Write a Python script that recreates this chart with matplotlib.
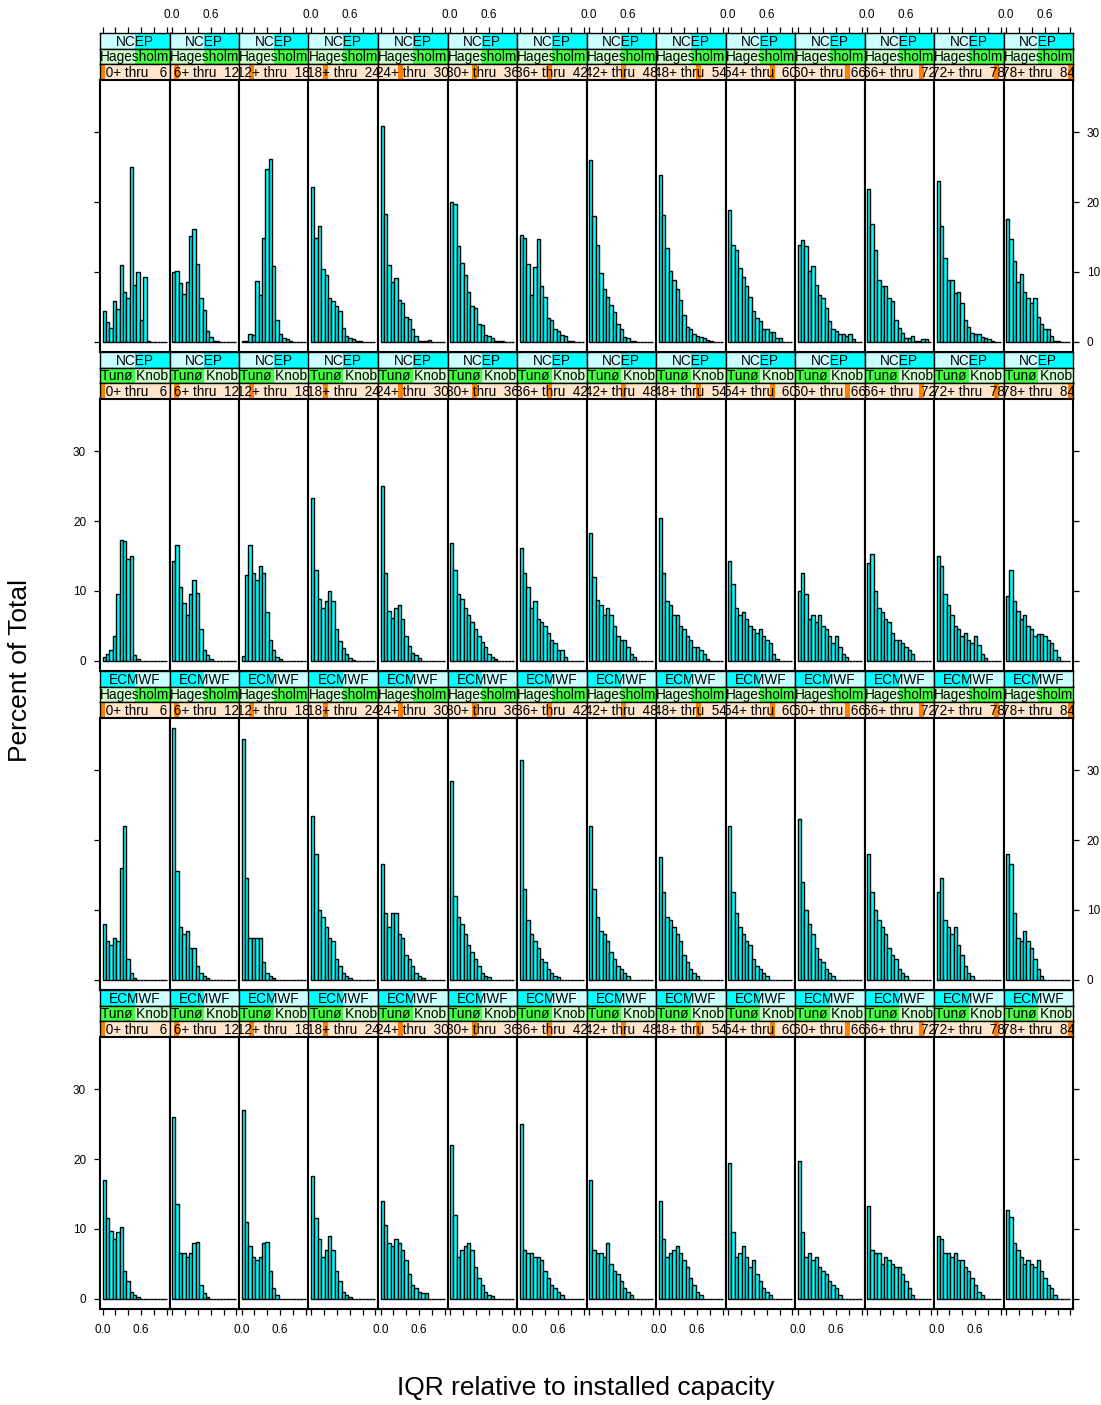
import numpy as np
import matplotlib
matplotlib.use("Agg")
import matplotlib.pyplot as plt
from matplotlib.patches import Rectangle

plt.rcParams['font.family'] = ['Liberation Sans', 'DejaVu Sans']

# percent of total per IQR bin (19 bins over 0..1), one list per lead-time shingle
ncep_hagesholm = [
    [4.4, 2.9, 2.0, 5.9, 4.7, 11.0, 7.1, 6.3, 25.0, 8.2, 10.0, 3.2, 9.3, 0.2],
    [10.0, 10.2, 8.4, 6.8, 8.6, 15.1, 16.1, 11.2, 6.3, 4.5, 1.5, 0.7, 0.2, 0.1],
    [0.1, 0.2, 1.1, 1.0, 8.7, 6.7, 14.9, 24.7, 26.1, 10.9, 3.2, 1.2, 0.5, 0.4, 0.1],
    [22.1, 14.8, 16.6, 10.4, 9.6, 6.3, 5.8, 5.2, 4.4, 2.0, 0.9, 0.6, 0.4, 0.1, 0.2],
    [30.8, 18.3, 11.0, 8.6, 9.1, 6.0, 5.6, 3.5, 3.3, 1.9, 0.9, 0.2, 0.2, 0.1, 0.3],
    [20.0, 19.7, 13.7, 11.3, 9.6, 7.2, 5.2, 4.8, 2.6, 2.4, 1.0, 0.8, 0.5, 0.2, 0.2, 0.1],
    [15.3, 14.8, 11.2, 6.7, 10.7, 14.7, 8.0, 6.4, 3.4, 3.2, 1.8, 1.5, 1.0, 0.8, 0.2, 0.2],
    [26.0, 18.0, 13.8, 9.9, 7.6, 6.4, 5.3, 4.3, 2.5, 1.9, 0.7, 0.5, 0.2, 0.2],
    [23.8, 18.1, 13.4, 10.2, 8.8, 7.6, 6.0, 3.8, 2.1, 1.8, 1.1, 0.8, 0.7, 0.5, 0.3, 0.2],
    [18.9, 13.8, 13.2, 10.6, 9.3, 8.0, 6.4, 4.4, 3.4, 3.0, 1.9, 1.8, 1.4, 1.4, 0.5, 0.5],
    [13.9, 14.6, 13.7, 10.2, 10.8, 8.1, 6.7, 6.3, 4.8, 3.0, 1.8, 1.5, 1.2, 1.1, 0.8, 1.1, 0.4],
    [21.8, 16.8, 13.1, 8.8, 8.0, 8.0, 6.3, 5.8, 3.2, 2.0, 1.3, 0.6, 0.5, 0.8, 0.2, 0.2, 0.4, 0.4],
    [23.0, 16.5, 12.0, 8.8, 8.8, 7.0, 7.1, 5.6, 3.1, 2.1, 1.3, 1.2, 1.1, 0.7, 0.5, 0.4, 0.2],
    [17.5, 14.7, 11.6, 8.5, 9.7, 7.1, 6.3, 5.6, 6.3, 3.5, 2.6, 1.8, 1.8, 0.8, 0.2, 0.1],
]
ncep_tuno = [
    [0.5, 1.0, 1.5, 3.5, 9.5, 17.3, 17.1, 14.5, 15.0, 0.8, 0.3],
    [14.3, 16.6, 10.5, 8.3, 6.6, 9.5, 11.5, 9.7, 4.5, 1.5, 0.8, 0.3],
    [0.7, 12.3, 16.5, 12.5, 11.5, 13.5, 12.5, 7.0, 3.0, 1.5, 0.6, 0.3],
    [23.3, 13.0, 8.8, 7.5, 8.5, 10.0, 8.5, 4.5, 2.8, 1.8, 1.0, 0.4, 0.2],
    [25.0, 12.5, 7.2, 6.2, 7.5, 8.0, 6.0, 3.5, 2.2, 1.1, 0.9, 0.4],
    [16.8, 13.0, 9.5, 8.8, 7.5, 6.5, 5.5, 4.5, 3.5, 2.7, 2.0, 1.0, 0.5, 0.3],
    [16.2, 12.5, 10.5, 7.5, 8.5, 6.0, 5.5, 5.0, 4.0, 3.0, 2.5, 1.5, 1.5, 0.5],
    [18.3, 12.0, 8.7, 8.0, 6.5, 7.5, 6.5, 5.0, 3.5, 3.0, 3.0, 2.0, 1.0, 0.5],
    [20.5, 12.5, 8.5, 8.0, 6.5, 6.5, 5.0, 4.5, 3.5, 3.0, 2.0, 2.0, 1.5, 1.0, 0.3],
    [14.3, 11.0, 7.5, 6.5, 7.0, 6.0, 5.0, 4.5, 4.0, 4.5, 3.5, 3.0, 2.5, 1.0, 0.3],
    [10.0, 12.5, 9.5, 6.0, 6.5, 5.5, 6.5, 5.0, 4.5, 3.5, 2.5, 3.5, 2.0, 1.0, 0.5],
    [14.0, 15.3, 10.0, 7.5, 7.0, 6.0, 5.5, 4.0, 3.0, 3.0, 2.5, 2.0, 1.5, 1.0],
    [15.0, 13.5, 9.5, 8.0, 6.5, 5.0, 4.5, 3.5, 4.0, 3.0, 2.5, 3.5, 2.3, 1.0, 0.4],
    [9.3, 13.0, 8.5, 7.2, 6.0, 6.5, 5.0, 4.5, 3.5, 3.8, 3.8, 3.5, 3.0, 2.5, 1.5, 0.5],
]
ecmwf_hagesholm = [
    [8.0, 5.5, 5.0, 6.0, 5.5, 16.0, 22.0, 3.0, 1.0, 0.3],
    [36.0, 15.5, 7.5, 6.5, 7.0, 4.5, 4.5, 2.0, 1.0, 0.5, 0.3],
    [34.5, 14.5, 6.0, 6.0, 6.0, 6.0, 2.5, 1.0, 0.5, 0.3],
    [23.5, 18.0, 10.0, 9.0, 7.5, 6.0, 5.5, 3.0, 2.0, 1.0, 0.5, 0.3],
    [16.5, 9.5, 7.5, 9.5, 9.5, 6.5, 6.0, 3.5, 3.0, 2.0, 1.0, 0.5, 0.3],
    [28.5, 12.0, 9.0, 8.0, 6.5, 5.0, 4.0, 3.0, 2.0, 1.0, 0.5, 0.4],
    [31.5, 13.0, 8.5, 6.5, 5.5, 4.5, 3.0, 2.5, 1.5, 1.0, 0.5, 0.4],
    [22.0, 13.0, 9.0, 7.0, 6.5, 5.5, 4.0, 3.0, 2.0, 1.5, 1.0, 0.5],
    [17.5, 12.5, 9.0, 8.5, 7.5, 6.5, 5.5, 3.5, 2.5, 1.5, 1.0, 0.5],
    [22.0, 12.5, 9.5, 7.5, 6.5, 5.5, 5.0, 3.0, 2.0, 1.5, 1.0, 0.5],
    [23.0, 14.0, 10.0, 8.0, 6.5, 4.5, 3.0, 2.5, 1.5, 1.0, 0.5],
    [18.0, 12.5, 10.0, 8.5, 7.5, 6.5, 4.5, 3.5, 3.0, 1.5, 1.0, 0.5],
    [12.5, 14.5, 8.5, 7.5, 6.5, 7.5, 5.0, 3.5, 2.0, 1.0, 0.5],
    [18.0, 16.5, 9.5, 6.0, 5.5, 7.0, 5.5, 4.5, 3.0, 1.5, 0.5],
]
ecmwf_tuno = [
    [17.0, 11.5, 9.7, 8.5, 9.5, 10.3, 4.0, 2.5, 1.0, 0.5, 0.3],
    [26.0, 13.5, 6.5, 6.5, 6.0, 6.5, 8.0, 8.2, 2.0, 0.8, 0.3],
    [27.0, 11.0, 7.5, 6.0, 5.5, 6.0, 8.0, 8.2, 4.0, 1.5, 0.5],
    [17.5, 11.5, 8.5, 6.0, 7.0, 9.0, 7.0, 4.0, 2.5, 1.0, 0.5, 0.3],
    [14.0, 10.5, 8.0, 7.5, 8.5, 8.0, 7.0, 5.5, 3.5, 2.0, 1.5, 1.0, 0.8, 0.8],
    [22.0, 12.0, 6.0, 7.0, 7.5, 8.0, 7.0, 4.5, 3.0, 2.0, 1.0, 0.5, 0.4],
    [25.0, 7.0, 6.5, 6.5, 6.0, 6.0, 5.5, 4.0, 3.0, 2.0, 1.5, 1.0, 0.5],
    [17.0, 7.0, 6.5, 6.5, 6.0, 8.0, 5.0, 4.0, 3.5, 2.5, 1.5, 1.0, 0.5],
    [14.0, 8.5, 6.0, 6.5, 7.0, 7.5, 6.5, 5.5, 4.5, 3.0, 2.0, 1.0, 0.5],
    [19.5, 9.5, 6.0, 6.5, 7.5, 6.0, 4.5, 5.5, 3.5, 2.5, 1.5, 1.0, 0.5],
    [19.7, 9.5, 6.0, 6.5, 5.5, 6.0, 4.5, 4.0, 3.5, 2.5, 2.0, 1.5, 0.5],
    [13.3, 7.0, 6.5, 6.5, 5.0, 6.0, 5.5, 5.0, 4.5, 4.5, 3.5, 2.5, 1.5, 0.5],
    [9.0, 8.5, 6.5, 6.5, 6.0, 6.5, 5.5, 5.5, 4.5, 4.0, 3.0, 2.0, 1.0, 0.5],
    [12.7, 11.7, 8.0, 7.0, 6.0, 5.0, 5.5, 5.0, 4.5, 5.5, 4.0, 3.0, 2.0, 1.5, 0.5],
]

row_data = [ncep_hagesholm, ncep_tuno, ecmwf_hagesholm, ecmwf_tuno]
row_model = ['NCEP', 'NCEP', 'ECMWF', 'ECMWF']
row_site = ['Hagesholm', 'Tunø Knob', 'Hagesholm', 'Tunø Knob']
model_levels = ['ECMWF', 'NCEP']
site_levels = ['Tunø Knob', 'Hagesholm']
lead_lo = list(range(0, 84, 6))
lead_hi = list(range(6, 90, 6))

breaks = np.linspace(0, 1.0, 20)

W, H = 1101, 1405
fig = plt.figure(figsize=(W / 100, H / 100), dpi=100)

x_left, x_right = 100, 1073
y_top = 33
col_w = (x_right - x_left) / 14
strip_h = 47 / 3
panel_h = 272
row_h = 3 * strip_h + panel_h

xlim = (-0.04, 1.04)
ylim = (-1.44, 37.44)
xt = [0, 0.2, 0.4, 0.6, 0.8, 1.0]
xtl = ['0.0', '', '', '0.6', '', '']
yt = [0, 10, 20, 30]

tick_kw = dict(direction='out', length=4, width=0.9, labelsize=8.5, colors='black')


def new_ax(x, y, w, h):
    return fig.add_axes([x / W, 1 - (y + h) / H, w / W, h / H])


def frame(ax, lw=1.5):
    for s in ax.spines.values():
        s.set_linewidth(lw)
        s.set_color('black')


def strip(ax, text, bg, hi, a, b):
    ax.set_xlim(xlim)
    ax.set_ylim(0, 1)
    ax.set_xticks([])
    ax.set_yticks([])
    ax.add_patch(Rectangle((0, 0), 1, 1, transform=ax.transAxes, facecolor=bg, edgecolor='none', zorder=0))
    ax.add_patch(Rectangle((a, 0), b - a, 1, transform=ax.transAxes, facecolor=hi, edgecolor='none', zorder=1))
    ax.text(0.5, 0.45, text, transform=ax.transAxes, ha='center', va='center',
            fontsize=9.8, clip_on=True, zorder=2)
    frame(ax, 1.0)


for r in range(4):
    top = y_top + r * row_h
    for c in range(14):
        x0 = x_left + c * col_w

        # strips: model, site, lead-time shingle
        m = model_levels.index(row_model[r])
        sm = new_ax(x0, top, col_w, strip_h)
        strip(sm, row_model[r], '#CCFFFF', '#00FFFF', m / 2, (m + 1) / 2)
        s = site_levels.index(row_site[r])
        ss = new_ax(x0, top + strip_h, col_w, strip_h)
        strip(ss, row_site[r], '#CCFFCC', '#40FF40', s / 2, (s + 1) / 2)
        sl = new_ax(x0, top + 2 * strip_h, col_w, strip_h)
        strip(sl, '%2d+ thru %3d' % (lead_lo[c], lead_hi[c]), '#FFE5CC', '#FF7F00',
              lead_lo[c] / 84, lead_hi[c] / 84)

        if r == 0:
            sm.set_xticks(xt)
            sm.set_xticklabels(xtl if c % 2 == 1 else [''] * 6)
            sm.tick_params(axis='x', top=True, bottom=False, labeltop=True,
                           labelbottom=False, pad=5, **tick_kw)

        # panel
        ax = new_ax(x0, top + 3 * strip_h, col_w, panel_h)
        vals = row_data[r][c]
        vals = list(vals) + [0.0] * (len(breaks) - 1 - len(vals))
        ax.bar(breaks[:-1], vals, width=np.diff(breaks), align='edge',
               color='#00FFFF', edgecolor='black', linewidth=1.0)
        ax.set_xlim(xlim)
        ax.set_ylim(ylim)
        ax.set_xticks([])
        ax.set_yticks([])
        frame(ax)

        if r == 3:
            ax.set_xticks(xt)
            ax.set_xticklabels(xtl if c % 2 == 0 else [''] * 6)
            ax.tick_params(axis='x', bottom=True, labelbottom=True, pad=7, **tick_kw)
        if c == 0 or c == 13:
            ax.set_yticks(yt)
            if c == 0:
                ax.set_yticklabels([str(v) for v in yt] if r % 2 == 1 else [''] * 4)
                ax.tick_params(axis='y', left=True, right=False, labelleft=True,
                               labelright=False, pad=6, **tick_kw)
            else:
                ax.set_yticklabels([str(v) for v in yt] if r % 2 == 0 else [''] * 4)
                ax.tick_params(axis='y', left=False, right=True, labelleft=False,
                               labelright=True, pad=6, **tick_kw)

fig.text(586 / W, 1 - 1388 / H, 'IQR relative to installed capacity', ha='center', va='center', fontsize=19)
fig.text(20 / W, 1 - 671 / H, 'Percent of Total', ha='center', va='center', rotation=90, fontsize=19)

fig.savefig('out.png', dpi=100)
